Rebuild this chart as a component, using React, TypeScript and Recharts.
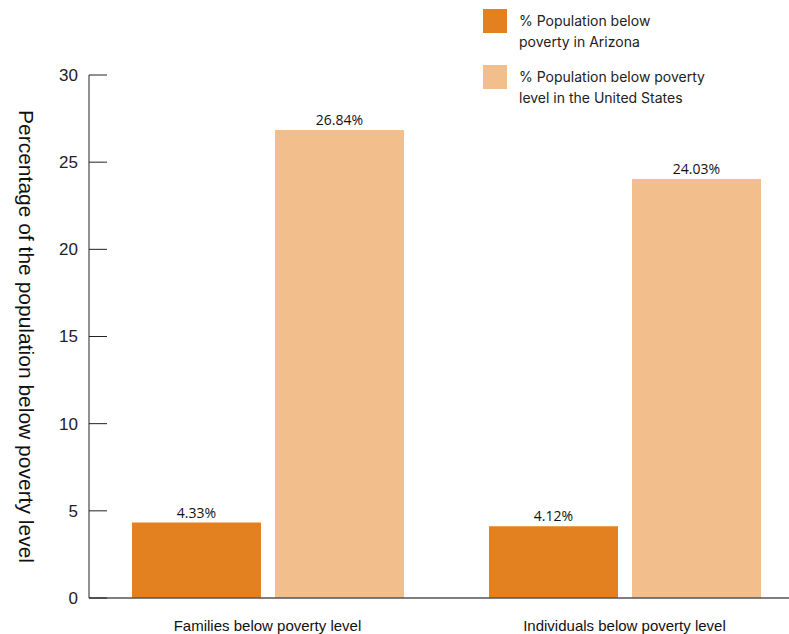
import { Bar, BarChart, LabelList, Legend, XAxis, YAxis } from 'recharts';

const categories = ['Families below poverty level', 'Individuals below poverty level'];
const arizona = [4.33, 4.12];
const unitedStates = [26.84, 24.03];
const yTicks = [0, 5, 10, 15, 20, 25, 30];

const AZ_COLOR = '#E3801F';
const US_COLOR = '#F1BE8C';

const data = categories.map((name, i) => ({
  name,
  arizona: arizona[i],
  us: unitedStates[i],
}));

const legendItems = [
  { color: AZ_COLOR, lines: ['% Population below', 'poverty in Arizona'] },
  { color: US_COLOR, lines: ['% Population below poverty', 'level in the United States'] },
];

// legenda personalizada, duas linhas por item
const LegendBox = () => (
  <div style={{ fontFamily: 'Inter, sans-serif', fontSize: 14, color: '#222' }}>
    {legendItems.map((item) => (
      <div key={item.lines[0]} style={{ display: 'flex', marginBottom: 13 }}>
        <div style={{ width: 24, height: 24, background: item.color, marginRight: 12, flexShrink: 0 }} />
        <div style={{ lineHeight: '21px', marginTop: 1 }}>
          {item.lines.map((l) => (
            <div key={l}>{l}</div>
          ))}
        </div>
      </div>
    ))}
  </div>
);

// tick do eixo Y com traço para dentro do gráfico
const YTick = ({ x, y, payload }: { x?: number; y?: number; payload?: { value: number } }) => (
  <g>
    <line x1={(x ?? 0) + 11} x2={(x ?? 0) + 29} y1={y} y2={y} stroke="#222" strokeWidth={1} />
    <text
      x={x}
      y={y}
      dy="0.35em"
      textAnchor="end"
      fontFamily="'Liberation Sans', sans-serif"
      fontSize={17}
      fill="#222"
    >
      {payload?.value}
    </text>
  </g>
);

const YLabel = ({ viewBox }: { viewBox?: { x: number; y: number; width: number; height: number } }) => {
  const cy = viewBox ? viewBox.y + viewBox.height / 2 : 336;
  return (
    <text
      x={25}
      y={cy}
      transform={`rotate(90, 25, ${cy})`}
      textAnchor="middle"
      dominantBaseline="middle"
      fontFamily="'Liberation Sans', sans-serif"
      fontSize={21}
      fill="#111"
    >
      Percentage of the population below poverty level
    </text>
  );
};

export default function App() {
  return (
    <div style={{ position: 'absolute', left: 0, top: 0, width: 789, height: 634, overflow: 'hidden', background: '#fff' }}>
      <BarChart
        width={803}
        height={634}
        data={data}
        margin={{ top: 75, right: 0, left: 1, bottom: 0 }}
        barSize={129}
        barGap={14}
      >
        <XAxis
          dataKey="name"
          height={36}
          tickLine={false}
          tickSize={0}
          tickMargin={22}
          axisLine={{ stroke: '#555', strokeWidth: 1.5 }}
          tick={{ fontFamily: "'Liberation Sans', sans-serif", fontSize: 15, fill: '#111' }}
        />
        <YAxis
          width={88}
          domain={[0, 30]}
          ticks={yTicks}
          tickSize={0}
          tickMargin={11}
          tickLine={false}
          axisLine={{ stroke: '#222' }}
          tick={<YTick />}
          label={<YLabel />}
        />
        <Legend
          layout="horizontal"
          verticalAlign="middle"
          align="center"
          content={<LegendBox />}
          wrapperStyle={{ position: 'absolute', left: 483, top: 9, width: 300 }}
        />
        <Bar dataKey="arizona" fill={AZ_COLOR} isAnimationActive={false}>
          <LabelList
            dataKey="arizona"
            position="top"
            offset={5}
            formatter={(v: number) => `${v.toFixed(2)}%`}
            fill="#111"
            fontSize={14}
            fontFamily="'Open Sans', sans-serif"
          />
        </Bar>
        <Bar dataKey="us" fill={US_COLOR} isAnimationActive={false}>
          <LabelList
            dataKey="us"
            position="top"
            offset={5}
            formatter={(v: number) => `${v.toFixed(2)}%`}
            fill="#111"
            fontSize={14}
            fontFamily="'Open Sans', sans-serif"
          />
        </Bar>
      </BarChart>
    </div>
  );
}
